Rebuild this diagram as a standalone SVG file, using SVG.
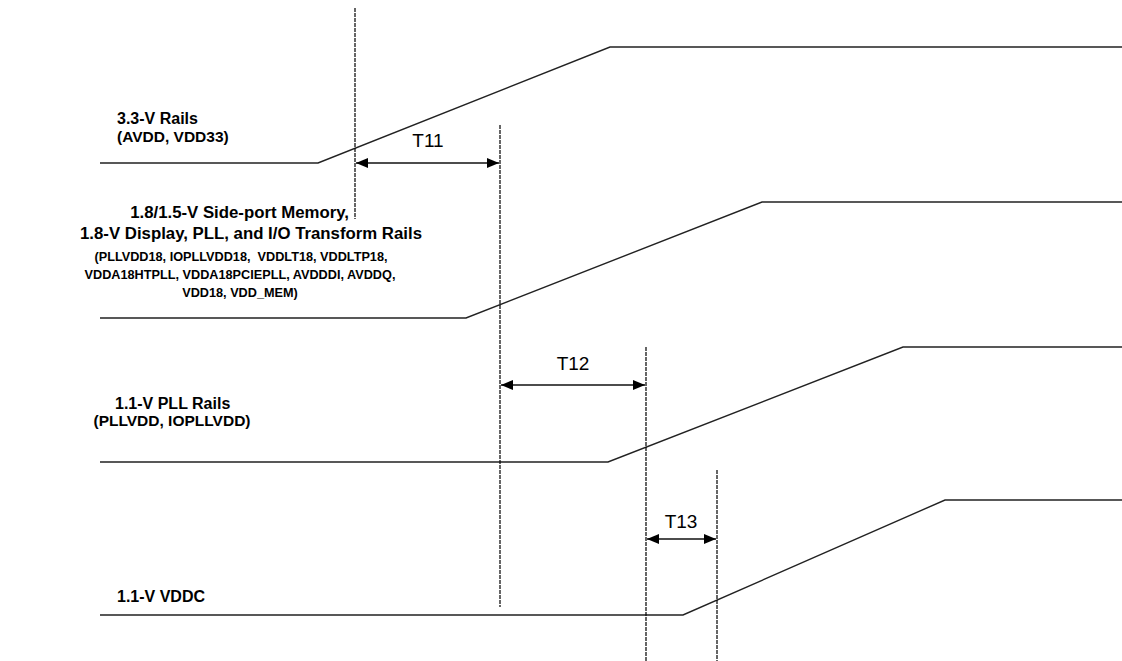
<svg xmlns="http://www.w3.org/2000/svg" width="1122" height="661" viewBox="0 0 1122 661">
<style>
.rail{fill:none;stroke:#222;stroke-width:1.4}
.vline{fill:none;stroke:#000;stroke-width:1.2;stroke-dasharray:4 1}
.dim{fill:none;stroke:#111;stroke-width:1.3}
.t{font-family:"Liberation Sans",Arial,sans-serif;font-weight:bold;font-size:16px;fill:#000}
.tb{font-family:"Liberation Sans",Arial,sans-serif;font-weight:bold;font-size:16.8px;fill:#000}
.s{font-family:"Liberation Sans",Arial,sans-serif;font-weight:bold;font-size:15.5px;fill:#000}
.sb{font-family:"Liberation Sans",Arial,sans-serif;font-weight:bold;font-size:12.7px;fill:#000;text-anchor:middle}
.d{font-family:"Liberation Sans",Arial,sans-serif;font-size:19px;fill:#000;text-anchor:middle}
</style>
<defs>
<marker id="ah" viewBox="0 0 12 10" refX="12" refY="5" markerWidth="12" markerHeight="10" markerUnits="userSpaceOnUse" orient="auto-start-reverse">
<path d="M0,0 L12,5 L0,10 z" fill="#000"/>
</marker>
</defs>
<rect width="1122" height="661" fill="#fff"/>
<g id="rail-33">
<path class="rail" d="M100,163 L318,163 L610,47 L1122,47"/>
<text class="t" x="117" y="124">3.3-V Rails</text>
<text class="s" x="117" y="142">(AVDD, VDD33)</text>
</g>
<g id="rail-18">
<path class="rail" d="M100,318 L466,318 L762,202 L1122,202"/>
<text class="tb" x="349" y="218" text-anchor="end">1.8/1.5-V Side-port Memory,</text>
<text class="tb" x="251" y="239" text-anchor="middle">1.8-V Display, PLL, and I/O Transform Rails</text>
<text class="sb" x="241" y="261" xml:space="preserve">(PLLVDD18, IOPLLVDD18,  VDDLT18, VDDLTP18,</text>
<text class="sb" x="240" y="279">VDDA18HTPLL, VDDA18PCIEPLL, AVDDDI, AVDDQ,</text>
<text class="sb" x="240" y="297">VDD18, VDD_MEM)</text>
</g>
<g id="rail-11pll">
<path class="rail" d="M100,462 L608,462 L903,347 L1122,347"/>
<text class="t" x="115" y="409">1.1-V PLL Rails</text>
<text class="s" x="172" y="426" text-anchor="middle">(PLLVDD, IOPLLVDD)</text>
</g>
<g id="rail-vddc">
<path class="rail" d="M100,615 L683,615 L945,500 L1122,500"/>
<text class="t" x="117" y="602">1.1-V VDDC</text>
</g>
<g id="connectors">
<line class="vline" x1="355" y1="8" x2="355" y2="219"/>
<line class="vline" x1="500" y1="125" x2="500" y2="607"/>
<line class="vline" x1="646" y1="347" x2="646" y2="661"/>
<line class="vline" x1="717" y1="470" x2="717" y2="661"/>
<line class="dim" x1="356" y1="163" x2="499" y2="163" marker-start="url(#ah)" marker-end="url(#ah)"/>
<line class="dim" x1="501" y1="385" x2="645" y2="385" marker-start="url(#ah)" marker-end="url(#ah)"/>
<line class="dim" x1="647" y1="539" x2="716" y2="539" marker-start="url(#ah)" marker-end="url(#ah)"/>
</g>
<g id="labels">
<text class="d" x="428" y="147">T11</text>
<text class="d" x="573" y="370">T12</text>
<text class="d" x="681" y="528">T13</text>
</g>
</svg>
